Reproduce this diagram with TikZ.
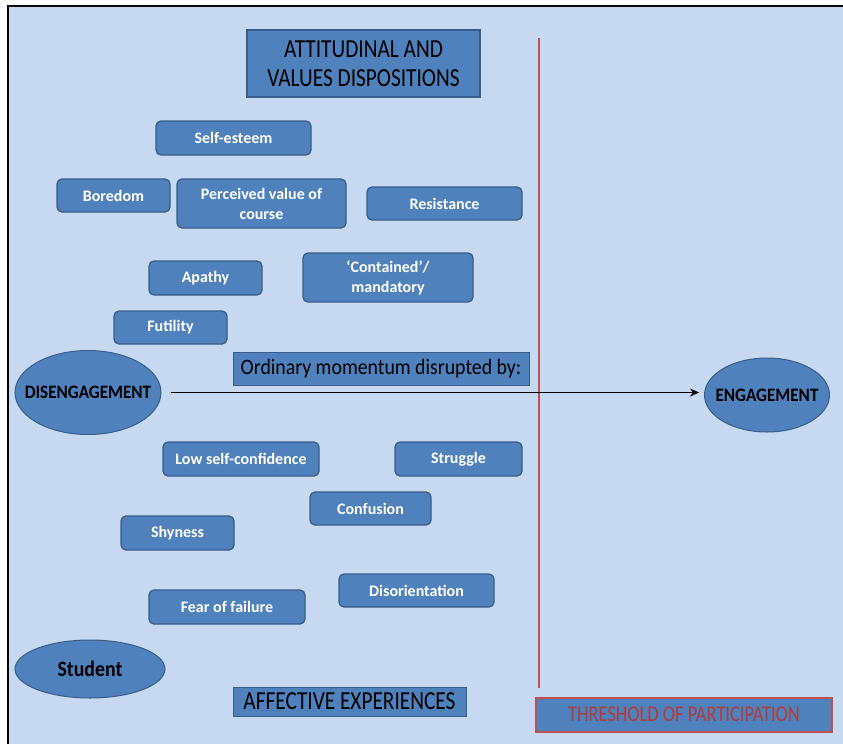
\documentclass[tikz,border=0pt]{standalone}
\usepackage{fontspec}
\setmainfont{Carlito}
\newfontfamily\narrowfont{Carlito}[FakeStretch=0.9]
\newfontfamily\tallfont{Carlito}[FakeStretch=0.82]
\usetikzlibrary{arrows.meta,shapes.geometric}
\definecolor{panel}{HTML}{C6D9F0}
\definecolor{boxfill}{HTML}{4F81BD}
\definecolor{boxline}{HTML}{385D8A}
\definecolor{threshred}{HTML}{C0504D}
\definecolor{threshtext}{HTML}{B03C3C}
\begin{document}
\begin{tikzpicture}[x=1pt,y=-1pt,
  factor/.style={draw=boxline, line width=1.3pt, fill=boxfill, rounded corners=5pt,
    text=white, font=\fontsize{16}{20}\selectfont\bfseries, align=center,
    inner sep=0pt},
  heading/.style={draw=boxline, line width=0.8pt, fill=boxfill, text=black,
    align=center, inner sep=0pt},
  state/.style={ellipse, draw=boxline, line width=1pt, fill=boxfill,
    inner sep=0pt},
  statetext/.style={text=black, inner sep=0pt,
    font=\narrowfont\fontsize{19}{23}\selectfont\bfseries}]
  \useasboundingbox (0,0) rectangle (843,744);
  % panel with its left and top rule
  \fill[white] (0,0) rectangle (843,744);
  \fill[panel] (8,6) rectangle (843,744);
  \draw[black, line width=2pt] (8,744) -- (8,6) -- (843,6);

  % headings
  \node[heading, line width=1.3pt, minimum width=233pt, minimum height=67pt,
    font=\tallfont\fontsize{26}{29}\selectfont] (title) at (363.5,63.5)
    {ATTITUDINAL AND\\VALUES DISPOSITIONS};
  \node[heading, minimum width=296pt, minimum height=33pt,
    font=\narrowfont\fontsize{22}{26}\selectfont] (ordinary) at (381,368.5)
    {Ordinary momentum disrupted by:};
  \node[heading, minimum width=233pt, minimum height=29pt,
    font=\tallfont\fontsize{26}{28}\selectfont] (affective) at (349.5,701.5)
    {AFFECTIVE EXPERIENCES};

  % attitudinal and values factors
  \node[factor, minimum width=155pt, minimum height=34pt] (selfesteem) at (233.5,138) {Self-esteem};
  \node[factor, minimum width=113pt, minimum height=33pt] (boredom) at (113.5,195.5) {Boredom};
  \node[factor, minimum width=169pt, minimum height=49pt] (perceived) at (261.5,203.5) {Perceived value of\\course};
  \node[factor, minimum width=155pt, minimum height=33pt] (resistance) at (444.5,203.5) {Resistance};
  \node[factor, minimum width=113pt, minimum height=34pt] (apathy) at (205.5,278) {Apathy};
  \node[factor, minimum width=170pt, minimum height=49pt] (contained) at (388,277.5) {‘Contained’/\\mandatory};
  \node[factor, minimum width=113pt, minimum height=33pt] (futility) at (170.5,327.5) {Futility};

  % affective factors
  \node[factor, minimum width=156pt, minimum height=34pt] (lowconf) at (241,459) {Low self-confidence};
  \node[factor, minimum width=127pt, minimum height=34pt] (struggle) at (458.5,459) {Struggle};
  \node[factor, minimum width=121pt, minimum height=33pt] (confusion) at (370.5,508.5) {Confusion};
  \node[factor, minimum width=113pt, minimum height=34pt] (shyness) at (177.5,533) {Shyness};
  \node[factor, minimum width=155pt, minimum height=33pt] (disorient) at (416.5,590.5) {Disorientation};
  \node[factor, minimum width=156pt, minimum height=34pt] (fear) at (227,607) {Fear of failure};

  % states: the ellipse is sized by hand, its label set on top
  \node[state, minimum width=146pt, minimum height=84pt] (dis) at (88,392.5) {};
  \node[statetext] (distext) at (dis.center) {DISENGAGEMENT};
  \node[state, minimum width=125pt, minimum height=74pt] (eng) at (767,395) {};
  \node[statetext] (engtext) at (eng.center) {ENGAGEMENT};
  \node[state, minimum width=150pt, minimum height=58pt] (student) at (90,669) {};
  \node[statetext, font=\narrowfont\fontsize{22}{26}\selectfont\bfseries]
    (studenttext) at (student.center) {Student};

  % threshold of participation
  \coordinate (threshtop) at (539,38);
  \coordinate (threshbottom) at (539,688);
  \draw[threshred, line width=2pt] (threshtop) -- (threshbottom);
  \node[draw=threshred, line width=2pt, fill=boxfill, text=threshtext,
    minimum width=296pt, minimum height=34pt, inner sep=0pt,
    font=\tallfont\fontsize{22.5}{25}\selectfont] (threshold) at (684,714.5)
    {THRESHOLD OF PARTICIPATION};

  % movement from disengagement to engagement
  \draw[-{Stealth[length=9pt,width=8pt]}, line width=1.8pt, black,
    shorten <=9pt, shorten >=5pt] (dis.east) -- (dis.east -| eng.west);
\end{tikzpicture}
\end{document}
